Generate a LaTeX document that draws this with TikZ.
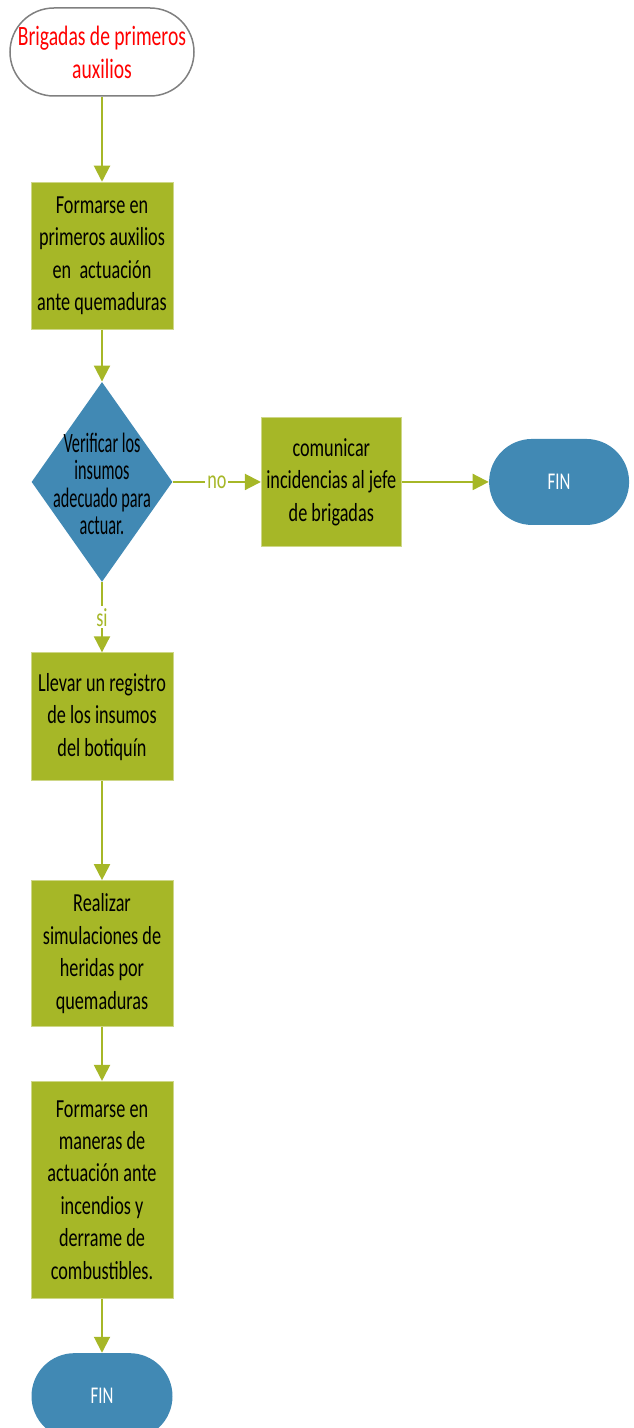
\documentclass[tikz,border=0pt]{standalone}
\usepackage{fontspec}
\setmainfont{Carlito}[FakeStretch=0.7]
\newfontfamily\dfont{Carlito}[FakeStretch=0.58]
\usetikzlibrary{shapes,arrows.meta,positioning}
\definecolor{flGreen}{HTML}{A6B727}
\definecolor{flBlue}{HTML}{4189B4}
\definecolor{flGray}{HTML}{808080}
\definecolor{flRed}{HTML}{FF0000}
\tikzset{
  ini/.style={draw=flGray, line width=0.75pt, fill=white, rounded corners=22pt, minimum width=92pt, minimum height=44pt, inner sep=1pt, text=flRed, align=center, font=\fontsize{14}{16.5}\selectfont},
  stp/.style={draw=flGreen!55!white, line width=0.4pt, fill=flGreen, minimum width=71pt, inner sep=2pt, align=center, font=\fontsize{13}{16.2}\selectfont},
  trm/.style={fill=flBlue, text=white, rounded corners=21.5pt, minimum width=70pt, minimum height=43pt, font=\fontsize{12}{14}\selectfont},
  dec/.style={diamond, fill=flBlue, minimum width=70.5pt, minimum height=100pt, inner sep=0pt},
  dtxt/.style={align=center, font=\dfont\fontsize{14}{13.8}\selectfont},
  arr/.style={-{Triangle[length=8pt,width=8pt]}, line width=1pt, draw=flGreen},
  lbl/.style={fill=white, inner sep=1pt, text=flGreen, font=\fontsize{13}{15}\selectfont},
}
\begin{document}
\begin{tikzpicture}
            \useasboundingbox (0,0) rectangle (316.5pt,-714pt);
            \node[ini] (start) at (51pt,-26pt) {Brigadas de primeros\\auxilios};
            \node[stp, minimum height=73.5pt, below=42.5pt of start] (frm) {Formarse en\\primeros auxilios\\en\ \ actuación\\ante quemaduras};
            \node[dec, below=26pt of frm] (chk) {};
            \node[dtxt] (chkT) at ([yshift=-1pt]chk) {Verificar los\\insumos\\adecuado para\\actuar.};
            \node[stp, minimum width=70pt, minimum height=64.5pt, right=44pt of chk] (com) {comunicar\\incidencias al jefe\\de brigadas};
            \node[trm, right=43.5pt of com] (fin1) {FIN};
            \node[stp, minimum height=64pt, below=35pt of chk] (reg) {Llevar un registro\\de los insumos\\del botiquín};
            \node[stp, minimum height=73pt, below=49.5pt of reg] (sim) {Realizar\\simulaciones de\\heridas por\\quemaduras};
            \node[stp, minimum height=108.5pt, below=27pt of sim] (frm2) {Formarse en\\maneras de\\actuación ante\\incendios y\\derrame de\\combustibles.};
            \node[trm, minimum width=70.5pt, below=27pt of frm2] (fin2) {FIN};
            \draw[arr] (start) -- (frm); \draw[arr] (frm) -- (chk);
            \draw[arr] (chk) -- node[lbl] {no} (com); \draw[arr] (com) -- (fin1);
            \draw[arr] (chk) -- node[lbl] {si} (reg);
            \draw[arr] (reg) -- (sim); \draw[arr] (sim) -- (frm2); \draw[arr] (frm2) -- (fin2);
        \end{tikzpicture}
\end{document}
